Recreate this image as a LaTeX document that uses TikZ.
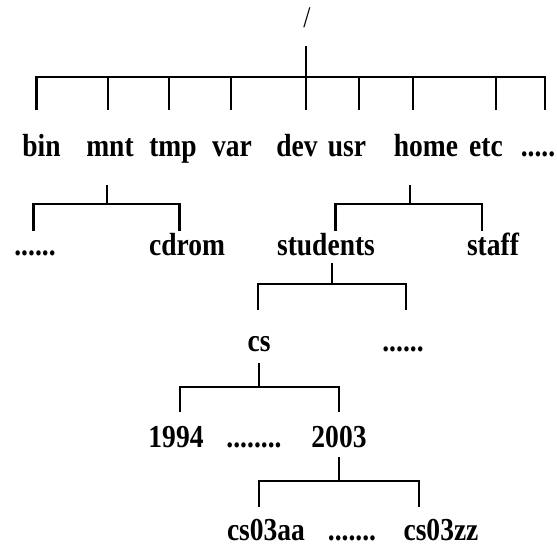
\documentclass[tikz,border=0pt]{standalone}
\usepackage{fontspec}
\setmainfont[FakeStretch=0.86]{Liberation Serif}
\begin{document}
\begin{tikzpicture}[x=1pt,y=-1pt,
  lbl/.style={anchor=base,inner sep=0pt,font=\fontsize{32}{34}\selectfont\bfseries},
  slashlbl/.style={anchor=base,inner sep=0pt,font=\fontsize{30}{32}\selectfont},
  tline/.style={line width=2.6pt,line cap=butt}]
\useasboundingbox (0,0) rectangle (557,548);
% labels
\node[slashlbl] (root) at (307,28) {/};
\node[lbl] (bin) at (41.5,157) {bin};
\node[lbl] (mnt) at (110,157) {mnt};
\node[lbl] (tmp) at (173,157) {tmp};
\node[lbl] (var) at (232,157) {var};
\node[lbl] (dev) at (297,157) {dev};
\node[lbl] (usr) at (347,157) {usr};
\node[lbl] (home) at (426,157) {home};
\node[lbl] (etc) at (486,157) {etc};
\node[lbl] (more1) at (538,157) {.....};
\node[lbl] (more2) at (35,255) {......};
\node[lbl] (cdrom) at (187,255) {cdrom};
\node[lbl] (students) at (326,255) {students};
\node[lbl] (staff) at (493,255) {staff};
\node[lbl] (cs) at (259,351) {cs};
\node[lbl] (more3) at (403,351) {......};
\node[lbl] (y1994) at (176,447) {1994};
\node[lbl] (more4) at (254,447) {........};
\node[lbl] (y2003) at (339,447) {2003};
\node[lbl] (cs03aa) at (266,540) {cs03aa};
\node[lbl] (more5) at (352,540) {.......};
\node[lbl] (cs03zz) at (441,540) {cs03zz};
% connector points
\coordinate (rootS) at (306,46);
\coordinate (rootB) at (306,77);
\coordinate (binT) at (36.7,110);
\coordinate (mntT) at (108,110);
\coordinate (tmpT) at (169,110);
\coordinate (varT) at (231,110);
\coordinate (devT) at (306,110);
\coordinate (usrT) at (359,110);
\coordinate (homeT) at (413,110);
\coordinate (etcT) at (496,110);
\coordinate (more1T) at (545,110);
\draw[tline] (rootS) -- (rootB);
\draw[tline] (binT) |- (more1T |- rootB) -- (more1T);
\foreach \c in {mntT,tmpT,varT,devT,usrT,homeT,etcT}
  \draw[tline] (\c) -- (\c |- rootB);
% mnt
\coordinate (mntS) at (107,185);
\coordinate (mntB) at (107,204);
\coordinate (more2T) at (33.7,231);
\coordinate (cdromT) at (179.4,231);
\draw[tline] (mntS) -- (mntB);
\draw[tline] (more2T) |- (cdromT |- mntB) -- (cdromT);
% home
\coordinate (homeS) at (410,185);
\coordinate (homeB) at (410,204);
\coordinate (studentsT) at (335.7,231);
\coordinate (staffT) at (482,231);
\draw[tline] (homeS) -- (homeB);
\draw[tline] (studentsT) |- (staffT |- homeB) -- (staffT);
% students
\coordinate (studentsS) at (332,263);
\coordinate (studentsB) at (332,284);
\coordinate (csT) at (258,310);
\coordinate (more3T) at (406,310);
\draw[tline] (studentsS) -- (studentsB);
\draw[tline] (csT) |- (more3T |- studentsB) -- (more3T);
% cs
\coordinate (csS) at (259,363);
\coordinate (csB) at (259,387);
\coordinate (y1994T) at (180,412);
\coordinate (y2003T) at (339,412);
\draw[tline] (csS) -- (csB);
\draw[tline] (y1994T) |- (y2003T |- csB) -- (y2003T);
% 2003
\coordinate (y2003S) at (339,457);
\coordinate (y2003B) at (339,481);
\coordinate (cs03aaT) at (259,507);
\coordinate (cs03zzT) at (419,507);
\draw[tline] (y2003S) -- (y2003B);
\draw[tline] (cs03aaT) |- (cs03zzT |- y2003B) -- (cs03zzT);
\end{tikzpicture}
\end{document}
